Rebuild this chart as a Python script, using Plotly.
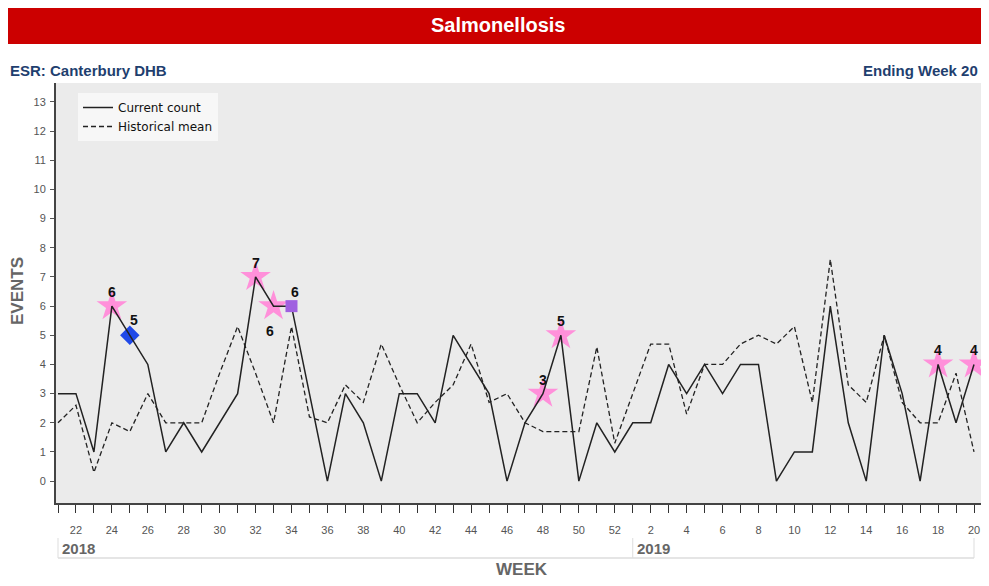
import plotly.graph_objects as go

# ---------------- data ----------------
years = [2018] * 32 + [2019] * 20
weeks = list(range(21, 53)) + list(range(1, 21))

current_count = [3, 3, 1, 6, 5, 4, 1, 2, 1, 2, 3, 7, 6, 6, 3, 0, 3, 2, 0, 3,
                 3, 2, 5, 4, 3, 0, 2, 3, 5, 0, 2, 1,
                 2, 2, 4, 3, 4, 3, 4, 4, 0, 1, 1, 6, 2, 0, 5, 3, 0, 4, 2, 4]

historical_mean = [2.0, 2.6, 0.3, 2.0, 1.7, 3.0, 2.0, 2.0, 2.0, 3.7, 5.3, 3.7,
                   2.0, 5.3, 2.2, 2.0, 3.3, 2.7, 4.7, 3.3, 2.0, 2.7, 3.3, 4.7,
                   2.7, 3.0, 2.0, 1.7, 1.7, 1.7, 4.6, 1.3,
                   3.0, 4.7, 4.7, 2.3, 4.0, 4.0, 4.7, 5.0, 4.7, 5.3, 2.7, 7.6,
                   3.3, 2.7, 5.0, 2.7, 2.0, 2.0, 3.7, 1.0]

star_alerts = [(2018, 24), (2018, 32), (2018, 33), (2018, 48), (2018, 49),
               (2019, 18), (2019, 20)]
diamond_alerts = [(2018, 25)]
square_alerts = [(2018, 34)]

y_ticks = list(range(0, 14))
title_text = "Salmonellosis"
left_sub = "ESR: Canterbury DHB"
right_sub = "Ending Week 20"

# ---------------- helpers ----------------
x_idx = list(range(len(weeks)))
key_to_idx = {(y, w): i for i, (y, w) in enumerate(zip(years, weeks))}

def pts(alerts):
    xs = [key_to_idx[a] for a in alerts]
    ys = [current_count[i] for i in xs]
    return xs, ys

FONT = "Liberation Sans, Arial, sans-serif"
GREY = "#666666"

# the figure sits at page (8, 8); visible page area ends at x = 981
OFF = 8
W, H = 981 - OFF, 586 - 2 * OFF
ml, mr, mt = 56 - OFF, 0, 83 - OFF
mb = H - (503 - OFF)
pw, ph = W - ml - mr, H - mt - mb

def px(xpage):
    return (xpage - OFF - ml) / pw

def py(ypage):
    return (H - mb - (ypage - OFF)) / ph

# x range: first week at page x 58, last week at page x 974
step = (974 - 58) / (len(weeks) - 1)
x0 = -(58 - 56) / step
x1 = x0 + pw / step

fig = go.Figure()

sx, sy = pts(star_alerts)
dx, dy = pts(diamond_alerts)
qx, qy = pts(square_alerts)

fig.add_trace(go.Scatter(x=sx, y=sy, mode="markers", showlegend=False,
                         marker=dict(symbol="star", size=23, color="#FF90DA",
                                     line=dict(width=0)), hoverinfo="skip"))
fig.add_trace(go.Scatter(x=dx, y=dy, mode="markers", showlegend=False,
                         marker=dict(symbol="diamond", size=15, color="#1F48E8",
                                     line=dict(width=0)), hoverinfo="skip"))

fig.add_trace(go.Scatter(x=x_idx, y=current_count, mode="lines", name="Current count",
                         line=dict(color="#222222", width=1.5)))
fig.add_trace(go.Scatter(x=x_idx, y=historical_mean, mode="lines", name="Historical mean",
                         line=dict(color="#222222", width=1.3, dash="5px,3px")))

fig.add_trace(go.Scatter(x=qx, y=qy, mode="markers", showlegend=False,
                         marker=dict(symbol="square", size=12, color="#A060E0",
                                     line=dict(width=0)), hoverinfo="skip"))

annotations = []

# value labels for alerts
label_style = {(2018, 33): (-4, -25), (2018, 25): (4, 15), (2018, 34): (4, 14)}
for a in star_alerts + diamond_alerts + square_alerts:
    i = key_to_idx[a]
    xs_, ys_ = label_style.get(a, (0, 14))
    annotations.append(dict(x=i, y=current_count[i], xref="x", yref="y",
                            text=str(current_count[i]), xanchor="center", yanchor="middle",
                            showarrow=False, xshift=xs_, yshift=ys_,
                            font=dict(family=FONT, size=14, color="#111111", weight="bold")))

shapes = []
# red title bar
shapes.append(dict(type="rect", xref="paper", yref="paper",
                   x0=px(8), x1=px(981), y0=py(44), y1=py(8),
                   fillcolor="#CC0000", line=dict(width=0), layer="above"))

# year boxes
year_starts = [i for i in x_idx if i == 0 or years[i] != years[i - 1]]
last = len(x_idx) - 1
for xv in year_starts + [last]:
    shapes.append(dict(type="line", xref="x", yref="paper", x0=xv, x1=xv,
                       y0=py(558), y1=py(538), line=dict(color="#DDDDDD", width=1)))
shapes.append(dict(type="line", xref="x", yref="paper", x0=0, x1=last,
                   y0=py(558), y1=py(558), line=dict(color="#DDDDDD", width=1.5)))

annotations += [
    dict(text=title_text, xref="paper", yref="paper", x=px(498), y=py(25),
         xanchor="center", yanchor="middle", showarrow=False,
         font=dict(family=FONT, size=20, color="white", weight="bold")),
    dict(text=left_sub, xref="paper", yref="paper", x=px(8), y=py(70),
         xanchor="left", yanchor="middle", showarrow=False,
         font=dict(family=FONT, size=15, color="#1F3F6F", weight="bold")),
    dict(text=right_sub, xref="paper", yref="paper", x=px(980), y=py(70),
         xanchor="right", yanchor="middle", showarrow=False,
         font=dict(family=FONT, size=15, color="#1F3F6F", weight="bold")),
    dict(text="WEEK", xref="paper", yref="paper", x=px(522), y=py(569),
         xanchor="center", yanchor="middle", showarrow=False,
         font=dict(family=FONT, size=17, color=GREY, weight="bold")),
    dict(text="EVENTS", xref="paper", yref="paper", x=px(17), y=py(291),
         xanchor="center", yanchor="middle", textangle=-90, showarrow=False,
         font=dict(family=FONT, size=17, color=GREY, weight="bold")),
]
for s in year_starts:
    annotations.append(dict(text=str(years[s]), xref="x", yref="paper", x=s, y=py(548),
                            xanchor="left", yanchor="middle", xshift=2, showarrow=False,
                            font=dict(family=FONT, size=15, color=GREY, weight="bold")))

tick_vals = [i for i in x_idx if weeks[i] % 2 == 0]
tick_text = [str(weeks[i]) for i in tick_vals]

fig.update_layout(
    width=W, height=H, autosize=False,
    margin=dict(l=ml, r=mr, t=mt, b=mb, pad=0, autoexpand=False),
    paper_bgcolor="white", plot_bgcolor="#EBEBEB",
    shapes=shapes, annotations=annotations,
    legend=dict(x=px(78), y=py(93), xanchor="left", yanchor="top",
                bgcolor="#F7F7F7", borderwidth=0, itemwidth=30,
                font=dict(family="DejaVu Sans, Verdana, sans-serif", size=12, color="#111111"),
                tracegroupgap=0),
    showlegend=True,
    xaxis=dict(range=[x0, x1], tickmode="array", tickvals=tick_vals, ticktext=tick_text,
               ticks="outside", ticklen=8, tickcolor="#333333", tickwidth=1,
               minor=dict(dtick=1, tick0=0, ticks="outside", ticklen=8,
                          tickcolor="#333333", tickwidth=1, showgrid=False),
               showline=True, linecolor="#444444", linewidth=2, showgrid=False,
               zeroline=False, ticklabelstandoff=8, automargin=False,
               ticklabeloverflow="allow",
               tickfont=dict(family=FONT, size=11, color="#555555")),
    yaxis=dict(range=[-0.75, 13.65], tickmode="array", tickvals=y_ticks,
               ticks="outside", ticklen=4, tickcolor="#555555", tickwidth=1,
               showline=True, linecolor="#444444", linewidth=2, showgrid=False,
               zeroline=False, ticklabelstandoff=2, automargin=False,
               tickfont=dict(family=FONT, size=11, color="#555555")),
)

fig.write_html("out.html")
